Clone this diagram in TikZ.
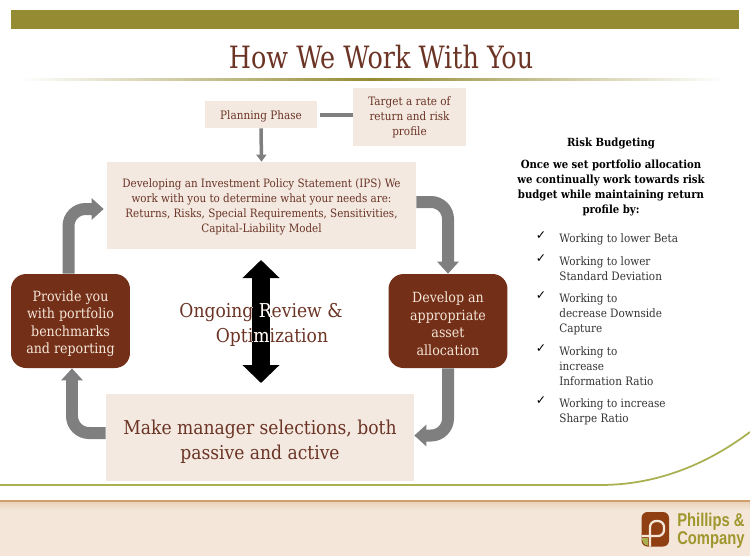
\documentclass[tikz,border=0pt]{standalone}
\usepackage{fontspec}
\setmainfont{DejaVu Serif Condensed}
\setsansfont{Liberation Sans}
\usetikzlibrary{arrows.meta}
\definecolor{banner}{HTML}{948B33}
\definecolor{brownd}{HTML}{732F17}
\definecolor{browntext}{HTML}{6B3425}
\definecolor{panel}{HTML}{F3E9E1}
\definecolor{flowgray}{HTML}{7F7F7F}
\definecolor{rulegreen}{HTML}{A9B050}
\definecolor{band}{HTML}{F4E6D8}
\tikzset{
droptext/.style={execute at begin node={\rule{0pt}{#1}}},
softbox/.style={fill=panel,text=browntext,align=center,inner sep=0pt,minimum height=#1},
darkbox/.style={fill=brownd,text=band,rounded corners=0.3cm,align=center,inner sep=0pt,minimum width=2.38cm,minimum height=1.88cm,droptext=39pt,font=\fontsize{8}{10}\selectfont},
flowarrow/.style={draw=flowgray,line width=0.24cm,rounded corners=0.34cm,-{Triangle[width=0.42cm,length=0.24cm]}},
risktext/.style={anchor=north west,align=left,inner sep=0pt,text=black!80,font=\fontsize{6.6}{8.55}\selectfont},
tick/.style={inner sep=0pt,text=black,font=\fontsize{7}{8}\selectfont}
}
\newfontfamily\tickfont{DejaVu Sans}
\begin{document}
\begin{tikzpicture}[x=0.02cm,y=-0.02cm]
\useasboundingbox (0,0) rectangle (750,556);
% top of the slide
\fill[banner] (11,10) rectangle (739,29);
\node[text=browntext,font=\fontsize{17.5}{20}\selectfont,inner sep=0pt,xscale=0.92] (title) at (381,57) {How We Work With You};
\shade[left color=white,right color=banner] (20,78.5) rectangle (372,80);
\shade[left color=banner,right color=white] (372,78.5) rectangle (725,80);
% boxes
\node[softbox=0.54cm,minimum width=2.24cm,droptext=7.3pt,font=\fontsize{6.6}{8.5}\selectfont] (plan) at (261,114.5) {Planning Phase};
\node[softbox=1.16cm,minimum width=2.26cm,font=\fontsize{6.6}{8.5}\selectfont] (target) at (409.5,117) {Target a rate of\\return and risk\\profile};
\node[softbox=1.74cm,minimum width=6.18cm,droptext=31.8pt,font=\fontsize{6.55}{8.55}\selectfont] (ips) at (261.5,205.5) {Developing an Investment Policy Statement (IPS) We\\work with you to determine what your needs are:\\Returns, Risks, Special Requirements, Sensitivities,\\Capital-Liability Model};
\node[softbox=1.74cm,minimum width=6.16cm,droptext=27pt,font=\fontsize{10.85}{14.2}\selectfont] (select) at (260,437.5) {Make manager selections, both\\passive and active};
\node[darkbox] (bench) at (70.5,321) {Provide you\\with portfolio\\benchmarks\\and reporting};
\node[darkbox] (alloc) at (448,321) {Develop an\\appropriate\\asset\\allocation};
% connectors
\draw[flowgray,line width=0.08cm] ([xshift=0.06cm]plan.east) -- (target.west |- plan.east);
\draw[flowgray,line width=0.07cm,-{Triangle[width=0.2cm,length=0.14cm]}] (plan.south) -- (ips.north);
\draw[flowarrow] ([yshift=0.07cm]ips.east) -| (alloc.north);
\draw[flowarrow] (alloc.south) |- ([yshift=0.04cm]select.east);
\draw[flowarrow] ([yshift=0.09cm]select.west) -| ([xshift=0.03cm]bench.south);
\draw[flowarrow] ([xshift=-0.04cm]bench.north) |- ([xshift=-0.06cm,yshift=-0.07cm]ips.west);
% ongoing review
\coordinate (revtop) at (261,260);
\coordinate (revbot) at (261,383);
\draw[black,line width=0.36cm,{Triangle[width=0.72cm,length=0.36cm]}-{Triangle[width=0.72cm,length=0.36cm]}] (revtop) -- (revbot);
\node[text=browntext,align=center,font=\fontsize{10.85}{14.2}\selectfont,inner sep=0pt] (review) at (261,325) {Ongoing Review \&\\\hspace*{0.44cm}Optimization};
\begin{scope}
\clip (252,270) rectangle (270,375);
\node[text=white,align=center,font=\fontsize{10.85}{14.2}\selectfont,inner sep=0pt] (reviewin) at (261,325) {Ongoing Review \&\\\hspace*{0.44cm}Optimization};
\end{scope}
% risk budgeting
\node[font=\bfseries\fontsize{6.4}{8.5}\selectfont,inner sep=0pt] (risk) at (611,143) {Risk Budgeting};
\node[font=\bfseries\fontsize{6.4}{8.55}\selectfont,align=center,inner sep=0pt] (once) at (611,187.5) {Once we set portfolio allocation\\we continually work towards risk\\budget while maintaining return\\profile by:};
\foreach \ypos/\words in {233/Working to lower Beta,
256/Working to lower\\Standard Deviation,
293/Working to\\decrease Downside\\Capture,
346/Working to\\increase\\Information Ratio,
398/Working to increase\\Sharpe Ratio}{
\node[tick] at (541,\ypos+3) {\tickfont ✓};
\node[risktext] at (559,\ypos) {\words};
}
% bottom of the slide
\draw[rulegreen,line width=0.035cm] (0,485) -- (600,485) .. controls (660,485) and (710,462) .. (750,432);
\fill[band] (0,501) rectangle (750,556);
\shade[top color=band!60!brown!70,bottom color=band] (0,501) rectangle (750,510);
\draw[brown!70!band,line width=0.03cm] (0,501) -- (750,501);
% logo
\fill[brownd!80!orange,rounded corners=0.12cm] (641.5,512) rectangle (669,546.5);
\draw[band,line width=0.045cm,rounded corners=0.12cm] (650,546.5) -- (650,521) -- (664,521) -- (664,536) -- (641.5,536);
\fill[rulegreen] (642,538) -- (648,538) -- (648,545.5) .. controls (644,545.5) and (642,542) .. (642,538);
\node[anchor=west,text=banner!90!yellow,font=\sffamily\bfseries\fontsize{10.5}{10}\selectfont,inner sep=0pt,xscale=0.8] (phil) at (677,522) {Phillips \&};
\node[anchor=west,text=banner!90!yellow,font=\sffamily\bfseries\fontsize{10.5}{10}\selectfont,inner sep=0pt,xscale=0.8] (comp) at (677,540) {Company};
\end{tikzpicture}
\end{document}
